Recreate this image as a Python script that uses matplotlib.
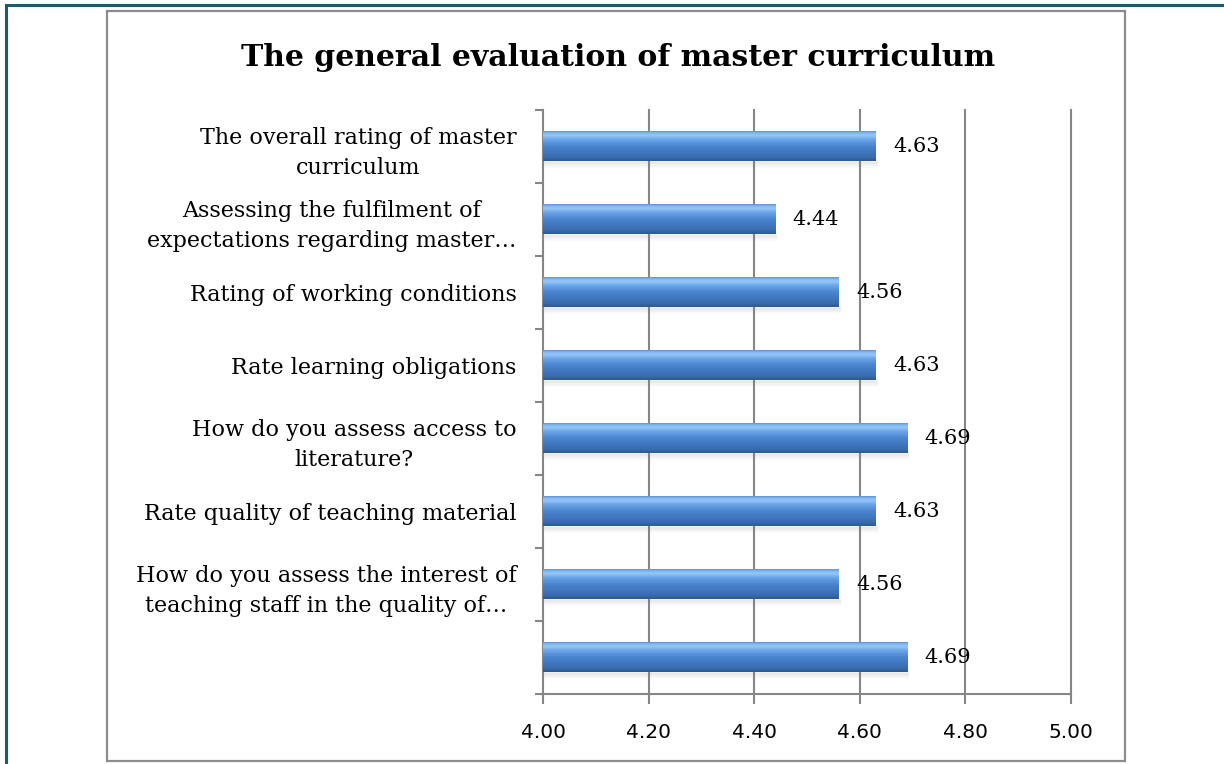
import numpy as np
import matplotlib
matplotlib.use("Agg")
import matplotlib.pyplot as plt
from matplotlib.colors import LinearSegmentedColormap
from matplotlib.patches import Rectangle

labels = [
    "The overall rating of master\ncurriculum",
    "Assessing the fulfilment of\nexpectations regarding master\u2026",
    "Rating of working conditions",
    "Rate learning obligations",
    "How do you assess access to\nliterature?",
    "Rate quality of teaching material",
    "How do you assess the interest of\nteaching staff in the quality of\u2026",
    "",
]
values = [4.63, 4.44, 4.56, 4.63, 4.69, 4.63, 4.56, 4.69]
xticks = [4.00, 4.20, 4.40, 4.60, 4.80, 5.00]
title = "The general evaluation of master curriculum"

W, H = 1224, 764
fig = plt.figure(figsize=(W / 100, H / 100), dpi=100)

# outer teal frame (only top/left visible) and inner gray chart box
fig.add_artist(Rectangle((6 / W, -0.1), 1.2, 1 - 5 / H + 0.1, transform=fig.transFigure,
                         fill=False, edgecolor="#1f5b6e", linewidth=2.2))
fig.add_artist(Rectangle((107 / W, 1 - 761 / H), (1125 - 107) / W, (761 - 11) / H,
                         transform=fig.transFigure, fill=False, edgecolor="#8c8c8c", linewidth=1.6))

ax = fig.add_axes([543 / W, 1 - 694 / H, (1071 - 543) / W, (694 - 110) / H])

n = len(values)
ypos = np.arange(n)
bar_h = 0.41

cmap = LinearSegmentedColormap.from_list(
    "cyl", [(0.0, "#2c5a93"), (0.12, "#386cae"), (0.5, "#4a85d0"),
            (0.72, "#6aa4e8"), (0.85, "#93c5f7"), (0.93, "#8abcf2"), (1.0, "#5f95d8")])
grad = np.linspace(0, 1, 64).reshape(-1, 1)

for i, v in enumerate(values):
    # soft shadow under the bar
    for k, a in enumerate([0.10, 0.07, 0.04]):
        ax.add_patch(Rectangle((4.0, i + bar_h / 2 - 0.02 + k * 0.03), v - 4.0 + 0.004, 0.05,
                               facecolor="#808080", alpha=a, edgecolor="none", zorder=2))
    ax.imshow(grad, extent=(4.0, v, i + bar_h / 2, i - bar_h / 2), aspect="auto",
              cmap=cmap, origin="lower", zorder=3, interpolation="bilinear")
    ax.annotate(f"{v:.2f}", xy=(v, i), xytext=(12.5, 0), textcoords="offset points",
                va="center", ha="left", fontsize=15, family="DejaVu Serif", zorder=5)

ax.set_xlim(4.0, 5.0)
ax.set_ylim(n - 0.5, -0.5)
ax.set_xticks(xticks)
ax.set_xticklabels([f"{t:.2f}" for t in xticks], fontsize=14.5, family="DejaVu Sans")
ax.set_yticks(ypos)
ax.set_yticklabels(labels, fontsize=16, family="DejaVu Serif", multialignment="center",
                   linespacing=1.45)
ax.set_yticks(np.arange(n + 1) - 0.5, minor=True)

ax.tick_params(axis="y", which="major", length=0, pad=19)
ax.tick_params(axis="y", which="minor", length=6, width=1.5, color="#868686", direction="out")
ax.tick_params(axis="x", length=7, width=1.5, color="#868686", direction="out", pad=14)

for t in xticks[1:]:
    ax.axvline(t, color="#868686", linewidth=1.5, zorder=1, clip_on=False)
for s in ["top", "right"]:
    ax.spines[s].set_visible(False)
for s in ["left", "bottom"]:
    ax.spines[s].set_color("#868686")
    ax.spines[s].set_linewidth(1.5)

fig.text(618 / W, 1 - 57 / H, title, ha="center", va="center", fontsize=21.5,
         fontweight="bold", family="DejaVu Serif")

fig.savefig("out.png", dpi=100)
